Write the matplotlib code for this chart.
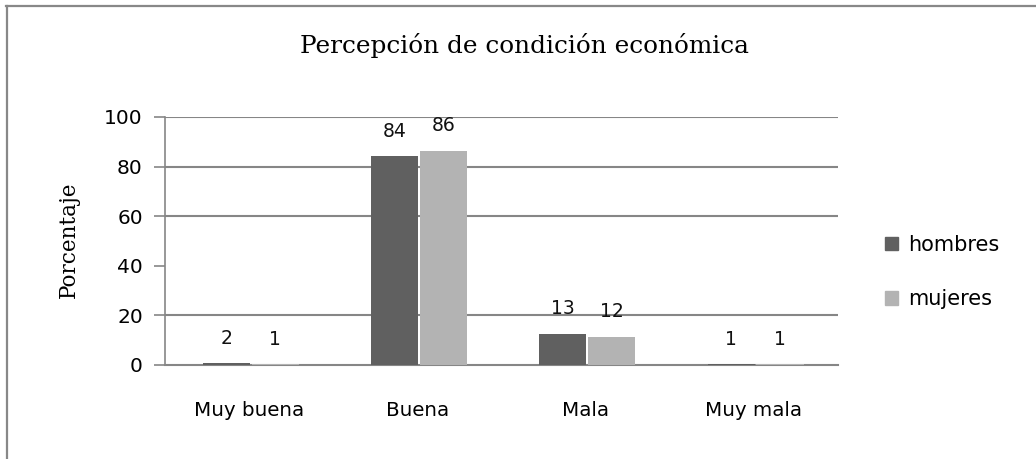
import matplotlib
matplotlib.use("Agg")
import matplotlib.pyplot as plt
from matplotlib.patches import Patch
from matplotlib.lines import Line2D
import numpy as np

categories = ["Muy buena", "Buena", "Mala", "Muy mala"]
series_names = ["hombres", "mujeres"]
hombres = [0.8, 84.3, 12.6, 0.3]
mujeres = [0.3, 86.4, 11.4, 0.3]
hombres_labels = ["2", "84", "13", "1"]
mujeres_labels = ["1", "86", "12", "1"]
yticks = [0, 20, 40, 60, 80, 100]
gridlines = [20, 60, 80, 100]
title = "Percepción de condición económica"
ylabel = "Porcentaje"

colors = ["#606060", "#b3b3b3"]
grid_color = "#868686"
W, H = 1036, 459
fig = plt.figure(figsize=(W / 100, H / 100), dpi=100)
ax = fig.add_axes([165 / W, 1 - 365 / H, (838 - 165) / W, (365 - 117) / H])

x = np.arange(len(categories))
bw = 0.28
b1 = ax.bar(x - bw / 2 + 0.005, hombres, bw, color=colors[0], zorder=3)
b2 = ax.bar(x + bw / 2 + 0.015, mujeres, bw, color=colors[1], zorder=3)

sans = "DejaVu Sans"
serif = "DejaVu Serif"
for bars, labs in ((b1, hombres_labels), (b2, mujeres_labels)):
    for r, t in zip(bars, labs):
        ax.annotate(t, (r.get_x() + r.get_width() / 2, r.get_height()),
                    xytext=(0, 11), textcoords="offset points",
                    ha="center", va="bottom", fontsize=13.5, family=sans,
                    color="#111111")

ax.set_xlim(-0.5, len(categories) - 0.5)
ax.set_ylim(0, 100)
ax.set_yticks(yticks)
ax.set_yticklabels([str(v) for v in yticks], family=sans, fontsize=14.5)
ax.set_xticks(x)
ax.set_xticklabels(categories, family=sans, fontsize=14.3)
ax.tick_params(axis="x", length=0, pad=26)
ax.tick_params(axis="y", length=8, width=1.2, color=grid_color, pad=8)
for g in gridlines:
    ax.axhline(g, color=grid_color, lw=1.5, zorder=1)
for s in ["top", "right"]:
    ax.spines[s].set_visible(False)
ax.spines["left"].set_color(grid_color)
ax.spines["left"].set_linewidth(1.2)
ax.spines["bottom"].set_color(grid_color)
ax.spines["bottom"].set_linewidth(1.5)

fig.text(524 / W, 1 - 45 / H, title, family=serif, fontsize=17.8,
         ha="center", va="center", color="#000000")
fig.text(69 / W, 1 - 240 / H, ylabel, family=serif, fontsize=15.5,
         rotation=90, ha="center", va="center", color="#000000")

handles = [Patch(color=c) for c in colors]
fig.legend(handles, series_names, loc="center left",
           bbox_to_anchor=(866 / W, 1 - 272 / H), frameon=False,
           handlelength=0.65, handleheight=0.65, handletextpad=0.45,
           labelspacing=1.65, prop={"family": sans, "size": 15})

fig.add_artist(Line2D([6 / W, 1], [1 - 5.5 / H, 1 - 5.5 / H],
                      transform=fig.transFigure, color="#888888", lw=1.6))
fig.add_artist(Line2D([6.5 / W, 6.5 / W], [0, 1 - 5.5 / H],
                      transform=fig.transFigure, color="#888888", lw=1.6))

fig.savefig("out.png", dpi=100)
